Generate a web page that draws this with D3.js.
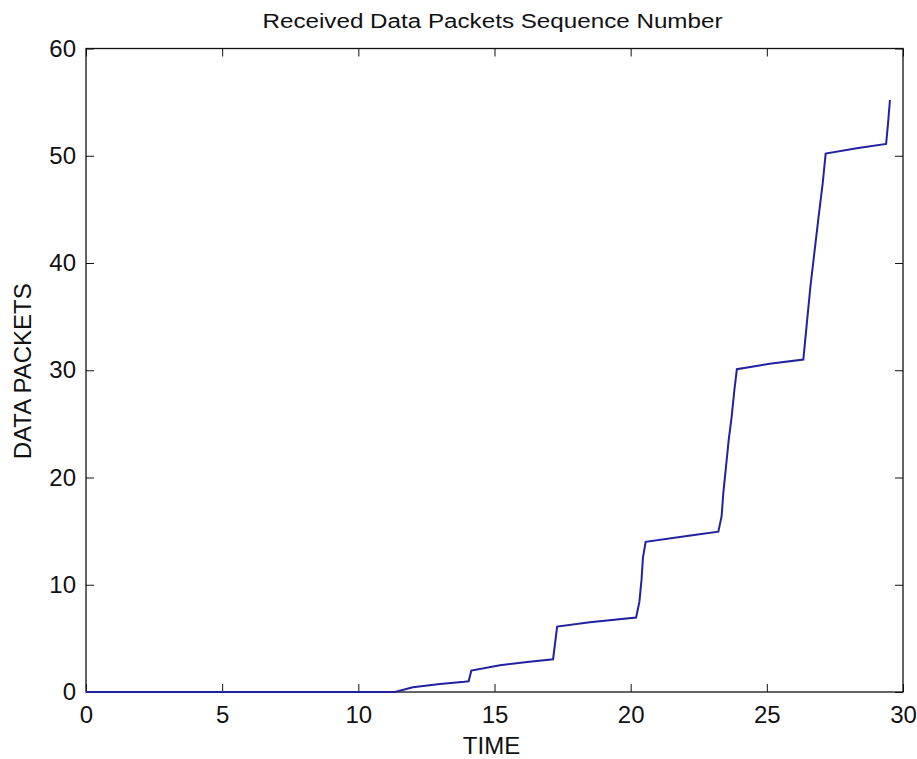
<!DOCTYPE html>
<html>
<head>
<meta charset="utf-8">
<style>
  body { margin: 0; background: #fff; }
  svg { display: block; }
  text { font-family: "Liberation Sans", Arial, sans-serif; fill: #111; }
</style>
<script src="https://cdn.jsdelivr.net/npm/d3@7"></script>
</head>
<body>
<svg id="svg"></svg>
<script>
// received packets over time
var time = [0, 11.35, 12.0, 13.0, 13.9, 14.05, 14.15, 15.2, 16.2, 17.15, 17.3, 18.5, 20.2,
  20.32, 20.4, 20.45, 20.55, 22.2, 23.22, 23.34, 23.4, 23.5, 23.6, 23.71, 23.81, 23.9,
  25.1, 26.34, 26.6, 26.9, 27.05, 27.16, 28.3, 29.38, 29.45, 29.52];
var packets = [0, 0, 0.45, 0.75, 0.95, 1.0, 2.0, 2.5, 2.8, 3.05, 6.1, 6.5, 6.95,
  8.4, 10.5, 12.5, 14.0, 14.6, 14.95, 16.4, 18.5, 21, 23.5, 25.7, 28.2, 30.1,
  30.6, 31.0, 37.8, 44.3, 47.4, 50.2, 50.7, 51.1, 53, 55.2];
var xTicks = [0, 5, 10, 15, 20, 25, 30];
var yTicks = [0, 10, 20, 30, 40, 50, 60];
var title = "Received Data Packets Sequence Number";
var xLabel = "TIME";
var yLabel = "DATA PACKETS";

var W = 917, H = 759;
var margin = { top: 48.5, right: 14, bottom: 67, left: 86 };
var width = W - margin.left - margin.right,
    height = H - margin.top - margin.bottom;

var svg = d3.select("#svg").attr("width", W).attr("height", H);
var g = svg.append("g").attr("transform", "translate(" + margin.left + "," + margin.top + ")");

var x = d3.scaleLinear().domain([0, 30]).range([0, width]);
var y = d3.scaleLinear().domain([0, 60]).range([height, 0]);

var data = time.map(function (t, i) { return { t: t, p: packets[i] }; });

var line = d3.line()
  .x(function (d) { return x(d.t); })
  .y(function (d) { return y(d.p); });

// axes, MATLAB style: ticks inside, mirrored on the opposite sides
function styleAxis(sel) {
  sel.select(".domain").remove();
  sel.selectAll("line").attr("stroke", "#111");
  sel.selectAll("text").style("font-size", "24px").attr("fill", "#111");
}

g.append("g")
  .attr("transform", "translate(0," + height + ")")
  .call(d3.axisBottom(x).tickValues(xTicks).tickSizeInner(-8).tickSizeOuter(0).tickPadding(14))
  .call(styleAxis)
  .selectAll("text").attr("dy", "0.71em");

g.append("g")
  .call(d3.axisLeft(y).tickValues(yTicks).tickSizeInner(-8).tickSizeOuter(0).tickPadding(10))
  .call(styleAxis);

g.append("g")
  .call(d3.axisTop(x).tickValues(xTicks).tickSizeInner(-8).tickSizeOuter(0).tickFormat(""))
  .call(styleAxis);

g.append("g")
  .attr("transform", "translate(" + width + ",0)")
  .call(d3.axisRight(y).tickValues(yTicks).tickSizeInner(-8).tickSizeOuter(0).tickFormat(""))
  .call(styleAxis);

g.append("rect")
  .attr("width", width).attr("height", height)
  .attr("fill", "none").attr("stroke", "#111").attr("stroke-width", 1.3);

// data line drawn over the box so the zero stretch shows on the bottom edge
g.append("path")
  .datum(data)
  .attr("fill", "none")
  .attr("stroke", "#2222a0")
  .attr("stroke-width", 2)
  .attr("d", line);

svg.append("text")
  .attr("x", margin.left + width / 2 - 2)
  .attr("y", 28)
  .attr("text-anchor", "middle")
  .attr("textLength", 460)
  .attr("lengthAdjust", "spacingAndGlyphs")
  .style("font-size", "20px")
  .text(title);

svg.append("text")
  .attr("x", margin.left + width / 2 - 3)
  .attr("y", 754)
  .attr("text-anchor", "middle")
  .style("font-size", "24px")
  .text(xLabel);

svg.append("text")
  .attr("transform", "translate(31," + (margin.top + height / 2 + 1) + ") rotate(-90)")
  .attr("text-anchor", "middle")
  .style("font-size", "24px")
  .text(yLabel);
</script>
</body>
</html>
